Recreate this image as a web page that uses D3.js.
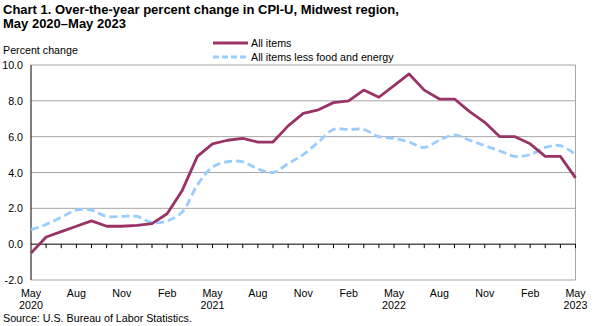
<!DOCTYPE html>
<html>
<head>
<meta charset="utf-8">
<script src="https://cdn.jsdelivr.net/npm/d3@7"></script>
<style>
  html, body { margin: 0; padding: 0; background: #fff; }
  svg { display: block; font-family: "Liberation Sans", Arial, sans-serif; }
</style>
</head>
<body>
<svg id="chart" width="595" height="326"></svg>
<script>
// Monthly over-the-year percent change, May 2020 .. May 2023
const months = d3.range(37);
const allItems = [
  -0.5, 0.4, 0.7, 1.0, 1.3, 1.0, 1.0, 1.05, 1.15, 1.7, 3.0, 4.9,
  5.6, 5.8, 5.9, 5.7, 5.7, 6.6, 7.3, 7.5, 7.9, 8.0, 8.6, 8.2,
  8.85, 9.5, 8.6, 8.1, 8.1, 7.4, 6.8, 6.0, 6.0, 5.6, 4.9, 4.9,
  3.7
];
const coreItems = [
  0.8, 1.1, 1.5, 1.9, 1.9, 1.55, 1.55, 1.55, 1.2, 1.3, 1.8, 3.3,
  4.3, 4.6, 4.6, 4.2, 4.0, 4.5, 5.0, 5.7, 6.4, 6.4, 6.4, 6.0,
  5.9, 5.7, 5.4, 5.8, 6.1, 5.8, 5.5, 5.2, 4.9, 5.0, 5.4, 5.5,
  5.0
];
const yTicks = [-2, 0, 2, 4, 6, 8, 10];
const monthNames = ["May", "Aug", "Nov", "Feb"];
const years = { 0: "2020", 12: "2021", 24: "2022", 36: "2023" };

const svg = d3.select("#chart");
const plotL = 31, plotR = 575.5, plotT = 65, plotB = 280;
const fs = 10.7;

const x = d3.scaleLinear().domain([0, 36]).range([plotL, plotR]);
const y = d3.scaleLinear().domain([-2, 10]).range([plotB, plotT]);

// Title
const title = svg.append("text")
  .attr("x", 3).attr("y", 14)
  .attr("font-size", 13).attr("font-weight", "bold").attr("fill", "#000");
title.append("tspan").text("Chart 1. Over-the-year percent change in CPI-U, Midwest region,");
title.append("tspan").attr("x", 3).attr("dy", 14).text("May 2020\u2013May 2023");

svg.append("text").attr("x", 3).attr("y", 54)
  .attr("font-size", fs).text("Percent change");

// Gridlines and frame
svg.append("g").selectAll("line")
  .data(yTicks.filter(d => d > 0))
  .join("line")
  .attr("x1", plotL).attr("x2", plotR)
  .attr("y1", d => y(d)).attr("y2", d => y(d))
  .attr("stroke", "#a6a6a6").attr("stroke-width", 1);
svg.append("path")
  .attr("d", `M${plotR},${plotT}V${plotB}H${plotL}`)
  .attr("fill", "none").attr("stroke", "#a6a6a6");

// Y axis
svg.append("line").attr("x1", plotL).attr("x2", plotL)
  .attr("y1", plotT).attr("y2", plotB).attr("stroke", "#000");
svg.append("g").selectAll("text")
  .data(yTicks).join("text")
  .attr("x", plotL - 8).attr("y", d => y(d) + 4)
  .attr("text-anchor", "end").attr("font-size", fs)
  .text(d => d.toFixed(1));

// Zero line with monthly ticks
svg.append("line").attr("x1", plotL).attr("x2", plotR)
  .attr("y1", y(0)).attr("y2", y(0)).attr("stroke", "#000");
svg.append("g").selectAll("line")
  .data(months.slice(1)).join("line")
  .attr("x1", d => x(d)).attr("x2", d => x(d))
  .attr("y1", y(0)).attr("y2", y(0) + 4)
  .attr("stroke", "#000");

// X labels every quarter
const xl = svg.append("g").attr("font-size", fs).attr("text-anchor", "middle");
months.filter(d => d % 3 === 0).forEach(d => {
  xl.append("text").attr("x", x(d)).attr("y", 297).text(monthNames[(d / 3) % 4]);
  if (years[d]) xl.append("text").attr("x", x(d)).attr("y", 309).text(years[d]);
});

// Series
const core = d3.line().x((d, i) => x(i)).y(d => y(d)).curve(d3.curveCatmullRom.alpha(0.5));
const all = d3.line().x((d, i) => x(i)).y(d => y(d));

svg.append("path").datum(coreItems).attr("d", core)
  .attr("fill", "none").attr("stroke", "#99ccff").attr("stroke-width", 2.8)
  .attr("stroke-dasharray", "8,4");
svg.append("path").datum(allItems).attr("d", all)
  .attr("fill", "none").attr("stroke", "#993366").attr("stroke-width", 2.8)
  .attr("stroke-linejoin", "round");

// Legend
const legend = svg.append("g").attr("font-size", fs);
legend.append("line").attr("x1", 213).attr("x2", 248).attr("y1", 43).attr("y2", 43)
  .attr("stroke", "#993366").attr("stroke-width", 2.8);
legend.append("text").attr("x", 251).attr("y", 47).text("All items");
legend.append("line").attr("x1", 213).attr("x2", 248).attr("y1", 57).attr("y2", 57)
  .attr("stroke", "#99ccff").attr("stroke-width", 2.8).attr("stroke-dasharray", "6,3");
legend.append("text").attr("x", 251).attr("y", 61).text("All items less food and energy");

svg.append("text").attr("x", 3).attr("y", 322)
  .attr("font-size", fs).text("Source: U.S. Bureau of Labor Statistics.");
</script>
</body>
</html>
